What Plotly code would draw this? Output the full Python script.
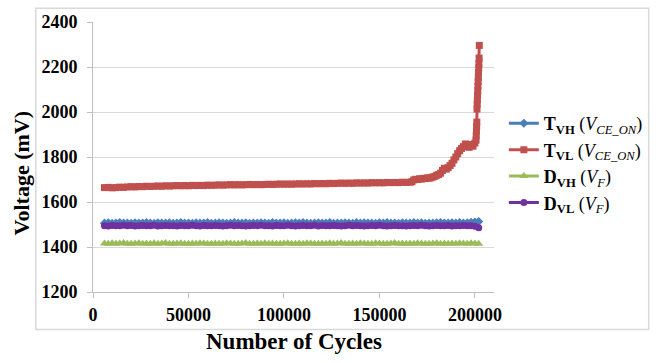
import plotly.graph_objects as go

# Measurement schedule (cycles) shared by the flat series
cycles = [
    6000, 8000, 10000, 12000, 14000, 16000, 18000, 20000, 22000, 24000,
    26000, 28000, 30000, 32000, 34000, 36000, 38000, 40000, 42000, 44000,
    46000, 48000, 50000, 52000, 54000, 56000, 58000, 60000, 62000, 64000,
    66000, 68000, 70000, 72000, 74000, 76000, 78000, 80000, 82000, 84000,
    86000, 88000, 90000, 92000, 94000, 96000, 98000, 100000, 102000, 104000,
    106000, 108000, 110000, 112000, 114000, 116000, 118000, 120000, 122000, 124000,
    126000, 128000, 130000, 132000, 134000, 136000, 138000, 140000, 142000, 144000,
    146000, 148000, 150000, 152000, 154000, 156000, 158000, 160000, 162000, 164000,
    166000, 168000, 170000, 172000, 174000, 176000, 178000, 180000, 182000, 184000,
    186000, 188000, 190000, 192000, 194000, 196000, 198000, 200000, 202000,
]

# T_VH (V_CE_ON), mV
tvh_mv = [
    1506, 1508, 1505, 1507, 1509, 1506, 1507, 1505, 1508, 1506,
    1507, 1509, 1506, 1505, 1508, 1507, 1506, 1508, 1505, 1507,
    1509, 1506, 1507, 1505, 1508, 1506, 1507, 1509, 1505, 1506,
    1508, 1507, 1505, 1506, 1509, 1507, 1506, 1508, 1505, 1507,
    1506, 1508, 1507, 1505, 1509, 1506, 1507, 1508, 1505, 1506,
    1508, 1507, 1509, 1506, 1505, 1507, 1508, 1506, 1507, 1509,
    1505, 1507, 1506, 1508, 1507, 1505, 1509, 1506, 1508, 1507,
    1506, 1505, 1508, 1507, 1509, 1506, 1507, 1505, 1508, 1506,
    1507, 1509, 1506, 1508, 1505, 1507, 1506, 1508, 1509, 1507,
    1506, 1508, 1507, 1509, 1506, 1508, 1510, 1511, 1513,
]

# T_VL (V_CE_ON): early readings, same schedule up to 166000 cycles
tvl_early_mv = [
    1664, 1665, 1663, 1664, 1666, 1665, 1667, 1668, 1667, 1669,
    1668, 1670, 1669, 1670, 1671, 1670, 1672, 1671, 1672, 1673,
    1672, 1673, 1672, 1674, 1673, 1674, 1673, 1675, 1674, 1675,
    1676, 1675, 1676, 1677, 1676, 1677, 1676, 1677, 1678, 1677,
    1678, 1677, 1678, 1679, 1678, 1679, 1680, 1679, 1680, 1679,
    1680, 1681, 1680, 1681, 1680, 1682, 1681, 1682, 1681, 1683,
    1682, 1683, 1684, 1683, 1684, 1683, 1685, 1684, 1685, 1684,
    1686, 1685, 1686, 1685, 1687, 1686, 1687, 1686, 1688, 1687,
    1688,
]

# T_VL (V_CE_ON): denser readings during the rise
tvl_late_cycles = [
    167000, 168000, 169000, 170000, 171000, 172000, 173000, 174000, 175000, 176000,
    177000, 178000, 179000, 180000, 181000, 182000, 183000, 184000, 185000, 186000,
    187000, 188000, 189000, 190000, 191000, 192000, 193000, 194000, 195000, 196000,
    197000, 198000, 199000, 200000,
]
tvl_late_mv = [
    1690, 1698, 1701, 1700, 1703, 1702, 1705, 1704, 1707, 1706,
    1708, 1711, 1714, 1719, 1722, 1728, 1740, 1750, 1746, 1753,
    1762, 1772, 1787, 1800, 1815, 1828, 1838, 1846, 1858, 1850,
    1843, 1856, 1848, 1862,
]

# T_VL readings taken close to failure
tvl_tail_cycles = [
    200600, 200700, 200800, 200900, 201000, 201100, 201200, 201300, 201400,
    201500, 201600, 201700, 201800, 201900, 202000, 202100, 202200, 202300,
]
tvl_tail_mv = [
    1875, 1895, 1915, 1935, 1955, 2013, 2035, 2055, 2075,
    2095, 2115, 2135, 2155, 2175, 2195, 2215, 2240, 2296,
]

# D_VH (V_F), mV
dvh_mv = [
    1416, 1414, 1417, 1415, 1416, 1418, 1415, 1414, 1416, 1417,
    1415, 1416, 1414, 1417, 1415, 1416, 1418, 1414, 1415, 1416,
    1417, 1415, 1414, 1416, 1415, 1417, 1416, 1414, 1415, 1416,
    1414, 1415, 1417, 1416, 1414, 1415, 1416, 1418, 1415, 1414,
    1416, 1415, 1417, 1414, 1416, 1415, 1414, 1416, 1417, 1415,
    1414, 1416, 1415, 1417, 1416, 1414, 1415, 1416, 1414, 1417,
    1415, 1416, 1418, 1415, 1414, 1416, 1415, 1417, 1416, 1414,
    1415, 1417, 1416, 1414, 1415, 1416, 1418, 1415, 1416, 1414,
    1416, 1415, 1417, 1416, 1414, 1415, 1416, 1417, 1415, 1416,
    1414, 1416, 1415, 1417, 1416, 1415, 1417, 1416, 1414,
]

# D_VL (V_F), mV
dvl_mv = [
    1495, 1493, 1496, 1494, 1495, 1497, 1494, 1496, 1493, 1495,
    1496, 1494, 1495, 1497, 1493, 1495, 1496, 1494, 1495, 1493,
    1496, 1495, 1494, 1497, 1495, 1493, 1496, 1494, 1495, 1496,
    1494, 1493, 1495, 1497, 1494, 1496, 1495, 1493, 1494, 1496,
    1495, 1497, 1494, 1495, 1493, 1496, 1494, 1495, 1497, 1494,
    1493, 1495, 1496, 1494, 1495, 1497, 1493, 1496, 1494, 1495,
    1496, 1494, 1493, 1495, 1497, 1494, 1496, 1495, 1493, 1494,
    1496, 1495, 1497, 1494, 1493, 1495, 1496, 1494, 1495, 1493,
    1495, 1496, 1494, 1497, 1495, 1493, 1494, 1496, 1495, 1494,
    1496, 1493, 1495, 1494, 1496, 1495, 1494, 1492, 1486,
]

series_names = [
    "<b>T<sub>VH</sub></b> (<i>V<sub>CE_ON</sub></i>)",
    "<b>T<sub>VL</sub></b> (<i>V<sub>CE_ON</sub></i>)",
    "<b>D<sub>VH</sub></b> (<i>V<sub>F</sub></i>)",
    "<b>D<sub>VL</sub></b> (<i>V<sub>F</sub></i>)",
]
x_ticks = [0, 50000, 100000, 150000, 200000]
y_ticks = [1200, 1400, 1600, 1800, 2000, 2200, 2400]

SERIF = "Liberation Serif, Times New Roman, serif"
styles = [
    ("#4A7EBB", "diamond", 7),
    ("#C0504D", "square", 7),
    ("#9BBB59", "triangle-up", 8),
    ("#7030A0", "circle", 7),
]

tvl_cycles = cycles[:len(tvl_early_mv)] + tvl_late_cycles + tvl_tail_cycles
tvl_mv = tvl_early_mv + tvl_late_mv + tvl_tail_mv

xs = [cycles, tvl_cycles, cycles, cycles]
ys = [tvh_mv, tvl_mv, dvh_mv, dvl_mv]

fig = go.Figure()
for name, x, y, (color, symbol, msize) in zip(series_names, xs, ys, styles):
    fig.add_trace(go.Scatter(
        x=x, y=y, name=name, mode="lines+markers",
        line=dict(color=color, width=3),
        marker=dict(color=color, symbol=symbol, size=msize, line=dict(width=0)),
    ))

W, H = 660, 363
L, R, T, B = 93, 160, 19, 71
pw, ph = W - L - R, H - T - B


def px_x(p):
    return (p - L) / pw


def px_y(p):
    return (H - B - p) / ph


fig.update_layout(
    width=W, height=H,
    margin=dict(l=L, r=R, t=T, b=B, pad=0),
    paper_bgcolor="white", plot_bgcolor="white",
    font=dict(family=SERIF, color="#000000"),
    showlegend=True,
    legend=dict(
        x=px_x(510), y=px_y(103), xanchor="left", yanchor="top",
        font=dict(family=SERIF, size=18, color="#000000"),
        bgcolor="rgba(0,0,0,0)", borderwidth=0, tracegroupgap=0,
    ),
    xaxis=dict(
        range=[0, 210000], tickvals=x_ticks, tickformat="d",
        showgrid=False, zeroline=False,
        showline=True, linecolor="#BFBFBF", linewidth=1,
        ticks="outside", ticklen=5, tickcolor="#BFBFBF",
        tickfont=dict(family=SERIF, size=18, color="#000000", weight="bold"),
        ticklabelstandoff=1,
    ),
    yaxis=dict(
        range=[1200, 2400], tickvals=y_ticks,
        showgrid=True, gridcolor="#D9D9D9", gridwidth=1, zeroline=False,
        showline=True, linecolor="#BFBFBF", linewidth=1,
        ticks="outside", ticklen=5, tickcolor="#BFBFBF",
        tickfont=dict(family=SERIF, size=18, color="#000000", weight="bold"),
        ticklabelstandoff=6,
    ),
    shapes=[dict(
        type="rect", xref="paper", yref="paper",
        x0=px_x(35), x1=px_x(657), y0=px_y(330), y1=px_y(5),
        line=dict(color="#D9D9D9", width=1.5), fillcolor="rgba(0,0,0,0)",
        layer="below",
    )],
    annotations=[
        dict(text="<b>Number of Cycles</b>", xref="paper", yref="paper",
             x=0.5, y=px_y(342), xanchor="center", yanchor="middle",
             showarrow=False, font=dict(family=SERIF, size=23, color="#000000")),
        dict(text="<b>Voltage (mV)</b>", xref="paper", yref="paper",
             x=px_x(20), y=px_y(172), xanchor="center", yanchor="middle",
             textangle=-90, showarrow=False,
             font=dict(family=SERIF, size=22, color="#000000")),
    ],
)

fig.write_html("out.html")
